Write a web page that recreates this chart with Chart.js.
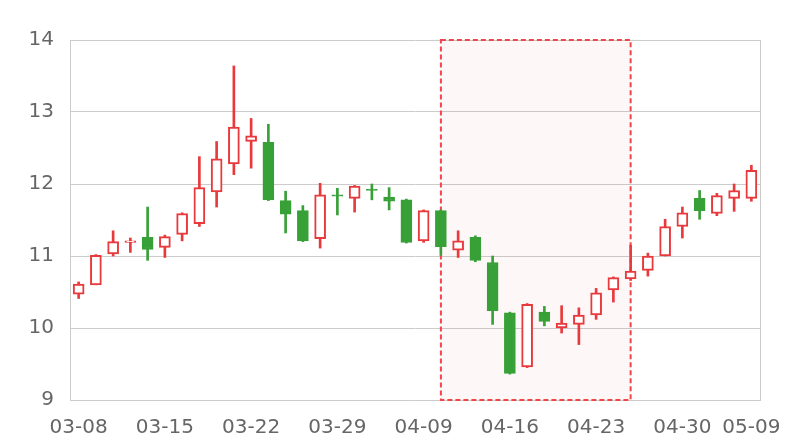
<!DOCTYPE html>
<html>
<head>
<meta charset="utf-8">
<script src="https://cdn.jsdelivr.net/npm/chart.js@4/dist/chart.umd.min.js"></script>
<style>
html,body{margin:0;padding:0;background:#fff;}
canvas{display:block;}
</style>
</head>
<body>
<canvas id="c" width="800" height="440"></canvas>
<script>
const dates = ['03-08','03-11','03-12','03-13','03-14','03-15','03-18','03-19','03-20','03-21',
  '03-22','03-25','03-26','03-27','03-28','03-29','04-01','04-02','04-03','04-08',
  '04-09','04-10','04-11','04-12','04-15','04-16','04-17','04-18','04-19','04-22',
  '04-23','04-24','04-25','04-26','04-29','04-30','05-06','05-07','05-08','05-09'];
const openP  = [10.47,10.60,11.03,11.19,11.26,11.12,11.30,11.45,11.89,12.28,
  12.59,12.58,11.77,11.63,11.24,11.85,11.80,11.93,11.82,11.78,
  11.21,11.63,11.08,11.26,10.91,10.21,9.46,10.22,10.00,10.05,
  10.18,10.53,10.68,10.80,11.00,11.41,11.80,11.59,11.80,11.80];
const closeP = [10.61,11.01,11.20,11.21,11.09,11.27,11.59,11.95,12.35,12.79,
  12.67,11.78,11.58,11.21,11.85,11.83,11.97,11.91,11.76,11.19,
  11.63,11.13,11.21,10.94,10.24,9.37,10.33,10.09,10.07,10.18,
  10.49,10.70,10.79,11.00,11.41,11.60,11.63,11.84,11.91,12.19];
const highP  = [10.64,11.02,11.35,11.25,11.68,11.29,11.60,12.38,12.59,13.64,
  12.91,12.83,11.90,11.70,12.01,11.94,11.98,12.00,11.95,11.79,
  11.64,11.64,11.35,11.28,11.00,10.22,10.34,10.30,10.31,10.28,
  10.55,10.71,11.15,11.04,11.51,11.68,11.91,11.87,12.00,12.26];
const lowP   = [10.41,10.60,11.00,11.05,10.94,10.98,11.21,11.41,11.68,12.13,
  12.22,11.77,11.32,11.20,11.11,11.57,11.61,11.78,11.64,11.18,
  11.19,11.01,10.98,10.92,10.05,9.36,9.45,10.03,9.93,9.77,
  10.12,10.36,10.66,10.72,11.00,11.25,11.51,11.56,11.62,11.76];
const yTicks = [9,10,11,12,13,14];
const xLabelEvery = 5;
const highlightFrom = '04-10';
const highlightTo = '04-25';

const UP = '#e8393c', DOWN = '#37a037';
const isUp = openP.map((o,i)=>closeP[i] >= o);
const candleColor = isUp.map(u => u ? UP : DOWN);

const highlightPlugin = {
  id: 'highlight',
  beforeDatasetsDraw(chart) {
    const {ctx, scales:{x,y}} = chart;
    const x0 = x.getPixelForValue(dates.indexOf(highlightFrom));
    const x1 = x.getPixelForValue(dates.indexOf(highlightTo));
    const y0 = y.getPixelForValue(yTicks[yTicks.length-1]);
    const y1 = y.getPixelForValue(yTicks[0]);
    ctx.save();
    ctx.fillStyle = 'rgba(240,60,60,0.04)';
    ctx.fillRect(x0, y0, x1-x0, y1-y0);
    ctx.strokeStyle = '#f0464a';
    ctx.lineWidth = 2;
    ctx.setLineDash([5,3]);
    ctx.strokeRect(x0, y0, x1-x0, y1-y0);
    ctx.restore();
  },
  afterDraw(chart) {
    const {ctx, chartArea:a} = chart;
    ctx.save();
    ctx.strokeStyle = '#cccccc';
    ctx.lineWidth = 1;
    ctx.beginPath();
    ctx.moveTo(Math.round(a.right)+0.5, a.top);
    ctx.lineTo(Math.round(a.right)+0.5, a.bottom);
    ctx.stroke();
    ctx.restore();
  }
};

new Chart(document.getElementById('c'), {
  type: 'bar',
  data: {
    labels: dates,
    datasets: [
      {
        label: 'body',
        data: openP.map((o,i)=>[o, closeP[i]]),
        backgroundColor: isUp.map(u => u ? '#ffffff' : DOWN),
        borderColor: candleColor,
        borderWidth: 2,
        borderSkipped: false,
        barThickness: 11,
        grouped: false,
        order: 0
      },
      {
        label: 'wick',
        data: lowP.map((l,i)=>[l, highP[i]]),
        backgroundColor: candleColor,
        borderWidth: 0,
        barThickness: 2,
        grouped: false,
        order: 1
      }
    ]
  },
  options: {
    responsive: false,
    animation: false,
    layout: { padding: { top: 40, right: 40, left: 0, bottom: 0 } },
    plugins: { legend: { display: false }, tooltip: { enabled: false } },
    scales: {
      x: {
        offset: true,
        grid: { display: false },
        border: { display: true, color: '#cccccc' },
        ticks: {
          autoSkip: false, maxRotation: 0, padding: 8,
          color: '#666666',
          font: { family: 'DejaVu Sans', size: 20 },
          callback: (v, i) => (i % xLabelEvery === 0 || i === dates.length - 1) ? dates[i] : ''
        },
        afterFit: s => { s.height = 40; }
      },
      y: {
        min: yTicks[0], max: yTicks[yTicks.length-1],
        afterBuildTicks: s => { s.ticks = yTicks.map(v => ({value: v})); },
        grid: { color: '#cccccc', drawTicks: false },
        border: { display: true, color: '#cccccc' },
        ticks: {
          padding: 16, color: '#666666',
          font: { family: 'DejaVu Sans', size: 20 }
        },
        afterFit: s => { s.width = 70; }
      }
    }
  },
  plugins: [highlightPlugin]
});
</script>
</body>
</html>
